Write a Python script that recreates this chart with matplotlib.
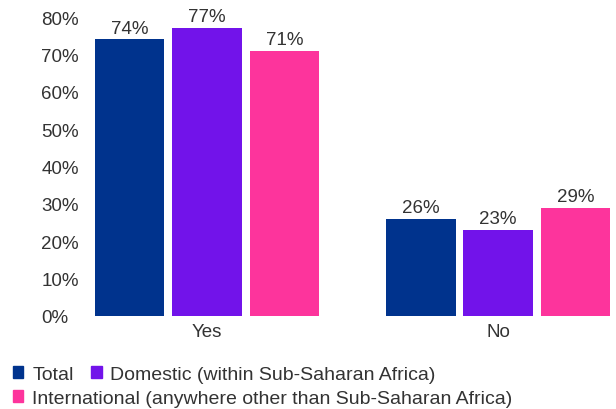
import matplotlib.pyplot as plt
import numpy as np
from matplotlib.patches import Patch

plt.rcParams['font.family'] = ['Liberation Sans', 'DejaVu Sans']

# Data
categories = ['Yes', 'No']
seriesNames = ['Total', 'Domestic (within Sub-Saharan Africa)',
               'International (anywhere other than Sub-Saharan Africa)']
totalVals = [74, 26]
domesticVals = [77, 23]
internationalVals = [71, 29]
yTicks = [0, 10, 20, 30, 40, 50, 60, 70, 80]

colors = ['#00338D', '#7213EA', '#FD349C']
textColor = '#333333'
fs = 13.5

fig = plt.figure(figsize=(6.16, 4.10), dpi=100)
ax = fig.add_axes([0.13, 0.227, 0.87, 0.729])

x = np.arange(len(categories))
barWidth = 0.24
step = 0.266
allVals = [totalVals, domesticVals, internationalVals]
for i, (vals, color) in enumerate(zip(allVals, colors)):
    bars = ax.bar(x + (i - 1) * step, vals, width=barWidth, color=color)
    for b, v in zip(bars, vals):
        ax.annotate(f'{v}%', (b.get_x() + b.get_width() / 2, v),
                    xytext=(0, 2), textcoords='offset points',
                    ha='center', va='bottom', fontsize=fs, color=textColor)

ax.set_xlim(-0.436, 1.405)
ax.set_ylim(0, 80)
ax.set_yticks(yTicks)
ax.set_yticklabels([f'{t}%' for t in yTicks])
ax.set_xticks(x)
ax.set_xticklabels(categories)
ax.tick_params(length=0, labelsize=fs, colors=textColor)
ax.tick_params(axis='y', pad=28)
ax.tick_params(axis='x', pad=5)
for s in ax.spines.values():
    s.set_visible(False)
for lbl in ax.get_yticklabels():
    lbl.set_horizontalalignment('left')

# Legend (two rows, built by hand)
legFs = 14
handles = [Patch(color=c) for c in colors]
leg1 = fig.legend(handles[:2], seriesNames[:2], ncol=2, loc='lower left',
                  bbox_to_anchor=(0.008, 0.045), frameon=False, fontsize=legFs,
                  handlelength=0.55, handleheight=0.55, handletextpad=0.45,
                  columnspacing=0.9, labelcolor=textColor, borderaxespad=0)
leg2 = fig.legend(handles[2:], seriesNames[2:], loc='lower left',
                  bbox_to_anchor=(0.008, -0.013), frameon=False, fontsize=legFs,
                  handlelength=0.55, handleheight=0.55, handletextpad=0.45,
                  labelcolor=textColor, borderaxespad=0)

fig.savefig('out.png', dpi=100)
